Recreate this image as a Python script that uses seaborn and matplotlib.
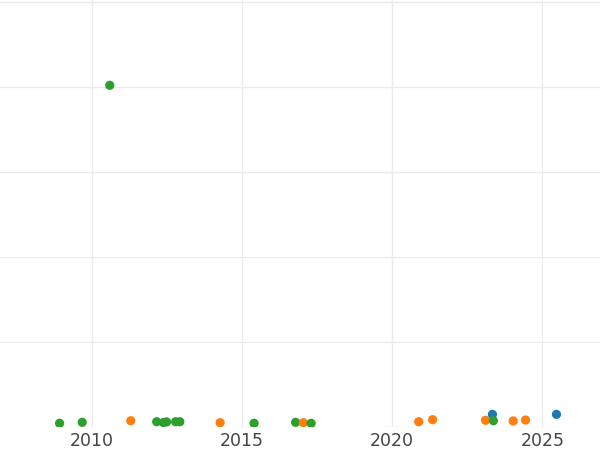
import matplotlib
matplotlib.use("Agg")
import matplotlib.pyplot as plt
import matplotlib.dates as mdates
import pandas as pd
import seaborn as sns

# Data
dates = [
    "2008-12-09", "2009-09-10", "2011-04-23", "2012-03-03", "2012-05-23",
    "2012-07-01", "2012-10-19", "2012-12-09", "2014-04-13", "2015-05-30",
    "2016-10-16", "2017-01-19", "2017-04-23", "2020-11-20", "2021-05-08",
    "2023-02-10", "2023-05-05", "2023-05-16", "2024-01-12", "2024-06-10",
    "2025-06-21", "2010-08-11",
]
values = [
    4.4, 5.5, 7.4, 6.2, 5.3,
    6.0, 6.2, 6.2, 5.1, 4.4,
    5.5, 5.1, 4.4, 6.2, 8.6,
    7.9, 14.9, 7.4, 7.1, 8.2,
    14.9, 402.0,
]
groups = [
    "C", "C", "B", "C", "C",
    "C", "C", "C", "B", "C",
    "C", "B", "C", "B", "B",
    "B", "A", "C", "B", "B",
    "A", "C",
]
group_order = ["A", "B", "C"]
palette = {"A": "#1f77b4", "B": "#ff7f0e", "C": "#2ca02c"}
y_ticks = [0, 100, 200, 300, 400, 500]

df = pd.DataFrame({"date": pd.to_datetime(dates), "value": values, "group": groups})

sns.set_theme(style="whitegrid")
plt.rcParams["font.family"] = ["DejaVu Sans"]

fig = plt.figure(figsize=(6, 4.5), dpi=100)
ax = fig.add_axes([0, 23 / 450, 1, 427 / 450])

sns.scatterplot(data=df, x="date", y="value", hue="group", hue_order=group_order,
                palette=palette, s=44, linewidth=0, legend=False, ax=ax, zorder=3)

ax.set_xlim(pd.Timestamp("2006-12-16"), pd.Timestamp("2026-12-02"))
ax.set_ylim(0, 502.35)
ax.set_yticks(y_ticks)
ax.set_yticklabels([])
ax.xaxis.set_major_locator(mdates.YearLocator(5))
ax.xaxis.set_major_formatter(mdates.DateFormatter("%Y"))
ax.tick_params(axis="both", length=0)
ax.tick_params(axis="x", labelsize=12.5, labelcolor="#444444", pad=3.5)
ax.grid(True, color="#ebebeb", linewidth=1)
ax.set_xlabel("")
ax.set_ylabel("")
for sp in ax.spines.values():
    sp.set_visible(False)

fig.savefig("out.png", dpi=100)
